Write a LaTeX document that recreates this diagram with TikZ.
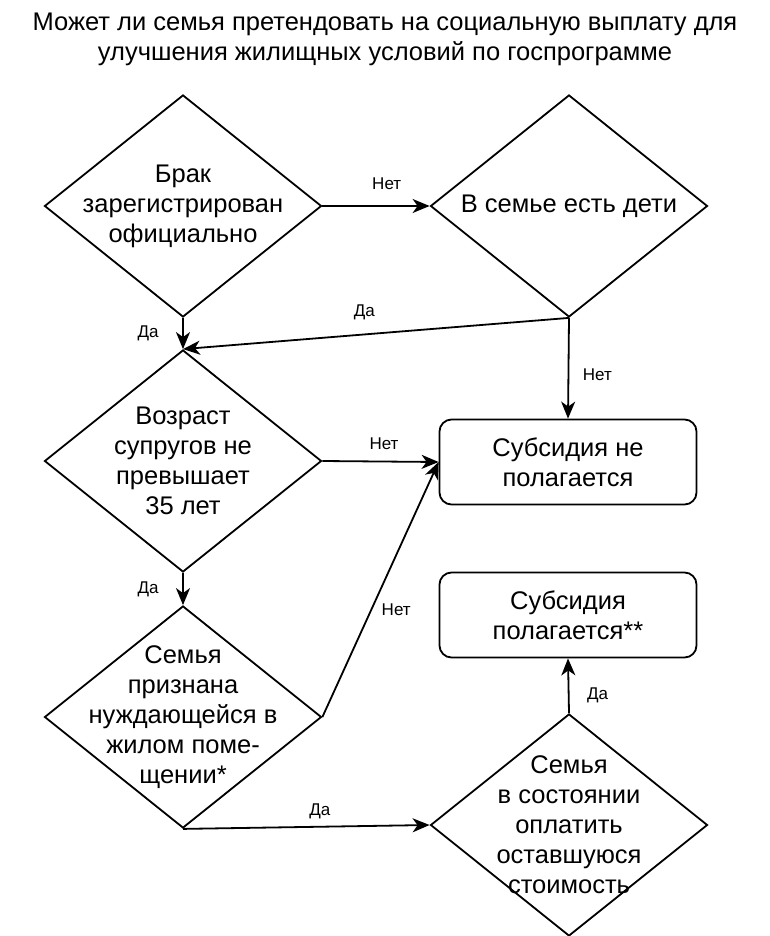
\documentclass[tikz,border=0pt]{standalone}
\usepackage{fontspec}
\setmainfont{Liberation Sans}
\usepackage{tikz}
\usetikzlibrary{shapes.geometric,arrows.meta,positioning}
\tikzset{>={Stealth[length=17pt,width=14pt,inset=5pt]}}

\begin{document}
\begin{tikzpicture}[x=1pt, y=-1pt,
                    mydiamond/.style={draw, diamond, line width=1.8pt, minimum width=277pt, minimum height=222pt, inner sep=0pt},
                    mybox/.style={draw, rectangle, rounded corners=12pt, line width=1.8pt, minimum width=257pt, minimum height=85pt},
                    mytext/.style={align=center, font=\fontsize{25.5}{30}\selectfont},
                    mylabel/.style={font=\fontsize{17}{19}\selectfont, inner sep=1pt},
                    myarrow/.style={line width=1.8pt, ->},
                   ]

\path[use as bounding box, fill=white] (0,0) rectangle (770,936);

\node[mytext] (title) at (385,39) {Может ли семья претендовать на социальную выплату для\\улучшения жилищных условий по госпрограмме};

% questions
\node[mydiamond] (brak) at (183,206) {};
\node[mytext] (brak-t) at (brak) {Брак\\зарегистрирован\\официально};

\node[mydiamond] (deti) at (569,206) {};
\node[mytext] (deti-t) at (deti) {В семье есть дети};

\node[mydiamond] (vozrast) at (183,461) {};
\node[mytext] (vozrast-t) at (vozrast) {Возраст\\супругов не\\превышает\\35 лет};

\node[mydiamond] (nuzhda) at (183,717) {};
\node[mytext] (nuzhda-t) at (nuzhda) {Семья\\признана\\нуждающейся в\\жилом поме-\\щении*};

\node[mydiamond] (oplata) at (569,825) {};
\node[mytext] (oplata-t) at (oplata) {Семья\\в состоянии\\оплатить\\оставшуюся\\стоимость};

% results
\node[mybox, mytext] (net) at (568,462) {Субсидия не\\полагается};
\node[mybox, mytext] (da) at (568,615) {Субсидия\\полагается**};

\draw[myarrow] (brak.east) -- (deti.west) node[mylabel, pos=.6, yshift=22pt] (l1) {Нет};
\draw[myarrow] (brak.south) -- (vozrast.north) node[mylabel, pos=.5, xshift=-35pt] (l2) {Да};
\draw[myarrow] (deti.south) -- (vozrast.north) node[mylabel, pos=.53, yshift=22pt] (l3) {Да};
\draw[myarrow] (deti.south) -- (net.north) node[mylabel, pos=.56, xshift=29pt] (l4) {Нет};
\draw[myarrow] (vozrast.east) -- (net.west) node[mylabel, pos=.53, yshift=18pt] (l5) {Нет};
\draw[myarrow] (nuzhda.east) -- (net.west) node[mylabel, pos=.42, xshift=25pt] (l6) {Нет};
\draw[myarrow] (vozrast.south) -- (nuzhda.north) node[mylabel, pos=.5, xshift=-35pt] (l7) {Да};
\draw[myarrow] (nuzhda.south) -- (oplata.west) node[mylabel, pos=.555, yshift=15pt] (l8) {Да};
\draw[myarrow] (oplata.north) -- (da.south) node[mylabel, pos=.33, xshift=29pt] (l9) {Да};

\end{tikzpicture}
\end{document}
